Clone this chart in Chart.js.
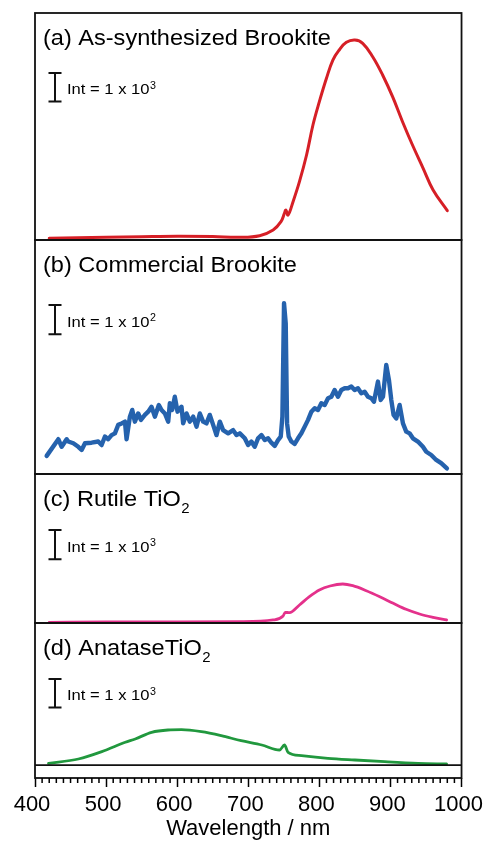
<!DOCTYPE html>
<html>
<head>
<meta charset="utf-8">
<script src="https://cdn.jsdelivr.net/npm/chart.js@4.4.0/dist/chart.umd.min.js"></script>
<style>
    html, body { margin: 0; padding: 0; background: #fff; }
    #wrap { position: relative; width: 491px; height: 842px; }
</style>
</head>
<body>
<div id="wrap"><canvas id="myChart"></canvas></div>
<script>
/* spectra: wavelength (nm) and intensity (counts above panel floor) */
const aWave = [420, 460, 500, 550, 600, 650, 688, 716, 735, 746, 751, 753, 756, 763, 772, 782, 791, 800, 810, 819, 828, 838, 850, 861, 875, 889, 903, 917, 931, 946, 960, 980];
const aInt = [60, 80, 95, 115, 130, 120, 95, 152, 352, 645, 951, 1057, 881, 1350, 2055, 2995, 4053, 4874, 5698, 6343, 6696, 6967, 7048, 6932, 6459, 5815, 5050, 4169, 3348, 2527, 1762, 1033];

const bWave = [416.4, 432.8, 437.5, 444.5, 446.8, 453.9, 460.9, 465.6, 470.3, 479.6, 489, 493.7, 498.4, 503, 507.7, 512.4, 517.1, 521.8, 526.5, 528.8,
    533.5, 536.8, 540.5, 545.2, 549, 554.6, 559.3, 563.9, 568.6, 574.2, 578, 582.7, 587.4, 589.7, 593, 596.7, 600.5, 606.1, 608.4, 613.1,
    617.8, 622.5, 627.2, 631.9, 636.5, 641.2, 645.9, 650.6, 655.3, 660, 664.6, 671.7, 678.7, 683.4, 688.1, 695.1, 699.8, 704.4, 709.1, 713.8,
    718.5, 723.2, 727.9, 732.5, 737.2, 741.9, 745.7, 748, 750.3, 752.7, 754.6, 756.9, 760.6, 765.3, 770, 774.7, 779.4, 784.1, 788.8, 793.4,
    798.1, 802.8, 807.5, 812.2, 816.9, 821.5, 826.2, 830.9, 835.6, 840.3, 845, 849.6, 854.3, 859, 863.7, 868.4, 873.1, 876.8, 882.4, 886.2,
    889.5, 894.1, 897.9, 901.2, 904.4, 908.2, 912.9, 917.6, 922.2, 926.9, 931.6, 938.6, 945.7, 950.4, 957.4, 964.4, 971.4, 979.4];
const bInt = [62, 119, 93, 119, 111, 105, 93, 82, 105, 107, 111, 99, 128, 119, 133, 139, 168, 173, 179, 119,
    196, 219, 179, 207, 185, 202, 213, 230, 196, 236, 219, 207, 179, 242, 219, 264, 213, 230, 173, 207,
    179, 196, 162, 207, 179, 173, 202, 168, 133, 179, 150, 139, 150, 133, 139, 122, 99, 111, 93, 122,
    133, 116, 122, 107, 96, 116, 128, 196, 584, 515, 173, 128, 111, 103, 122, 139, 162, 185, 213, 225,
    219, 242, 236, 259, 264, 287, 264, 287, 293, 293, 299, 287, 293, 276, 281, 264, 259, 247, 316, 253,
    264, 373, 321, 253, 202, 190, 236, 173, 145, 139, 122, 111, 93, 76, 65, 48, 37, 19];

const cWave = [420, 500, 600, 688, 735, 749, 752, 758, 772, 786, 800, 815, 833, 847, 866, 885, 904, 922, 941, 960, 979];
const cInt = [24, 34, 34, 45, 103, 240, 366, 353, 616, 900, 1130, 1267, 1335, 1277, 1106, 900, 674, 469, 308, 195, 103];

const dWave = [419, 461, 494, 527, 541, 564, 587, 606, 634, 662, 690, 719, 744, 751, 756, 775, 812, 850, 892, 939, 979];
const dInt = [67, 218, 475, 805, 921, 1157, 1238, 1248, 1178, 1037, 861, 710, 534, 710, 453, 334, 243, 183, 123, 67, 42];

const panelTitles = ["(a) As-synthesized Brookite", "(b) Commercial Brookite", "(c) Rutile TiO", "(d) AnataseTiO"];
const panelSubs = ["", "", "2", "2"];
const barValues = [1000, 100, 1000, 1000];
const barExps = ["3", "2", "3", "3"];
const xTicks = [400, 500, 600, 700, 800, 900, 1000];

const FONT = '"Liberation Sans", Arial, sans-serif';
const panelIds = ["yA", "yB", "yC", "yD"];
const colors = ["#d61f26", "#2562ad", "#e4318b", "#21983e"];

function pts(w, v) {
    let out = [];
    for (var i = 0; i < w.length; i++) out.push({ x: w[i], y: v[i] });
    return out;
}

function yAxis(weight, stackWeight, min, max) {
    return {
        type: "linear", position: "left", stack: "spec", stackWeight: stackWeight, weight: weight,
        min: min, max: max,
        ticks: { display: false },
        grid: { display: false, drawTicks: false },
        border: { display: false },
    };
}

function stretchText(ctx, str, x, y, size, sx) {
    ctx.save();
    ctx.font = size + "px " + FONT;
    ctx.translate(x, y);
    ctx.scale(sx, 1);
    ctx.fillText(str, 0, 0);
    const w = ctx.measureText(str).width * sx;
    ctx.restore();
    return w;
}

const panelDecor = {
    id: "panelDecor",
    afterDraw(chart) {
        const ctx = chart.ctx;
        const area = chart.chartArea;
        const xs = chart.scales.x;
        const barTop = [60, 65, 56, 56];
        ctx.save();
        ctx.fillStyle = "#000";
        ctx.strokeStyle = "#111";
        ctx.textBaseline = "alphabetic";

        panelIds.forEach((id, i) => {
            const s = chart.scales[id];
            // frame
            ctx.lineWidth = 1.8;
            ctx.strokeRect(area.left, s.top, area.right - area.left, s.bottom - s.top);

            // title with optional subscript
            const w = stretchText(ctx, panelTitles[i], area.left + 8, s.top + 31.5, 22, 1.07);
            if (panelSubs[i]) stretchText(ctx, panelSubs[i], area.left + 8 + w + 0.5, s.top + 39, 14, 1.07);

            // intensity scale bar
            const h = s.getPixelForValue(0) - s.getPixelForValue(barValues[i]);
            const bx = area.left + 20;
            const t = s.top + barTop[i];
            ctx.lineWidth = 2;
            ctx.beginPath();
            ctx.moveTo(bx, t); ctx.lineTo(bx, t + h);
            ctx.moveTo(bx - 6.5, t); ctx.lineTo(bx + 6.5, t);
            ctx.moveTo(bx - 6.5, t + h); ctx.lineTo(bx + 6.5, t + h);
            ctx.stroke();
            const base = t + h / 2 + 7;
            const tw = stretchText(ctx, "Int = 1 x 10", area.left + 32, base, 15.5, 1.07);
            stretchText(ctx, barExps[i], area.left + 32 + tw + 0.5, base - 5.5, 10, 1.07);
        });

        // zero line in panel (d)
        const yd = chart.scales.yD.getPixelForValue(0);
        ctx.lineWidth = 1.8;
        ctx.beginPath();
        ctx.moveTo(area.left, yd); ctx.lineTo(area.right, yd);
        ctx.stroke();

        // minor ticks every 10 nm
        ctx.lineWidth = 1.5;
        ctx.strokeStyle = "#000";
        ctx.beginPath();
        for (var v = xs.min + 10; v < xs.max; v += 10) {
            if (v % 100 === 0) continue;
            const px = xs.getPixelForValue(v);
            ctx.moveTo(px, area.bottom); ctx.lineTo(px, area.bottom + 5);
        }
        ctx.stroke();
        ctx.restore();
    },
};

const datasets = [
    { data: pts(aWave, aInt), yAxisID: "yA", borderColor: colors[0], borderWidth: 3, tension: 0.4 },
    { data: pts(bWave, bInt), yAxisID: "yB", borderColor: colors[1], borderWidth: 4.4, tension: 0 },
    { data: pts(cWave, cInt), yAxisID: "yC", borderColor: colors[2], borderWidth: 2.8, cubicInterpolationMode: "monotone" },
    { data: pts(dWave, dInt), yAxisID: "yD", borderColor: colors[3], borderWidth: 2.8, cubicInterpolationMode: "monotone" },
];
datasets.forEach((d) => { d.pointRadius = 0; d.fill = false; d.borderJoinStyle = "round"; d.borderCapStyle = "round"; });

const config = {
    type: "line",
    data: { datasets: datasets },
    options: {
        responsive: true,
        maintainAspectRatio: false,
        animation: false,
        layout: { padding: { left: 35, right: 29, top: 13, bottom: 0 } },
        plugins: { legend: { display: false }, tooltip: { enabled: false } },
        scales: {
            x: {
                type: "linear", position: "bottom", min: 400, max: 1000,
                afterBuildTicks: (scale) => { scale.ticks = xTicks.map((v) => ({ value: v })); },
                afterFit: (scale) => { scale.height = 64; },
                ticks: { color: "#000", font: { size: 22, family: FONT }, padding: 5, maxRotation: 0, autoSkip: false,
                    labelOffset: -3, callback: (v) => String(v) },
                grid: { display: true, drawOnChartArea: false, drawTicks: true, tickLength: 9, tickWidth: 1.5, tickColor: "#000" },
                border: { display: false },
                title: { display: true, text: "Wavelength / nm", color: "#000", font: { size: 22, family: FONT }, padding: 0 },
            },
            yD: yAxis(1, 155, -450, 5000),
            yC: yAxis(2, 149, 0, 5100),
            yB: yAxis(3, 234, 0, 800),
            yA: yAxis(4, 227, 0, 8000),
        },
    },
    plugins: [panelDecor],
};

const myChart = new Chart(document.getElementById("myChart"), config);
</script>
</body>
</html>
